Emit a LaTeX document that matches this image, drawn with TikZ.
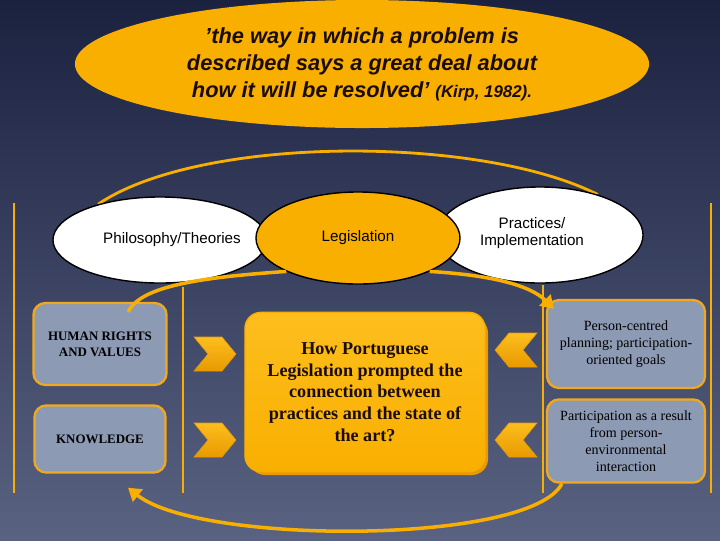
\documentclass[tikz,border=0pt]{standalone}
\usepackage{fontspec}
\setmainfont{Liberation Serif}
\setsansfont{Liberation Sans}
\usetikzlibrary{shapes.geometric,arrows.meta,backgrounds}
\definecolor{bgtop}{HTML}{1B2240}
\definecolor{bgbot}{HTML}{5A6282}
\definecolor{orng}{HTML}{F9AF00}
\definecolor{orngdark}{HTML}{E89A00}
\definecolor{ornglight}{HTML}{FDBE1E}
\definecolor{boxfill}{HTML}{8D9AB4}
\definecolor{boxline}{HTML}{F2A81D}
\definecolor{ink}{HTML}{1A0C00}

\begin{document}
\begin{tikzpicture}[x=0.025cm,y=-0.025cm,
    bubble/.style={ellipse,draw=black,line width=1pt,inner sep=0pt,
        font=\sffamily\fontsize{10.8}{12.5}\selectfont,align=center},
    graybox/.style={draw=boxline,line width=1.6pt,fill=boxfill,
        rounded corners=0.3cm,align=center,inner sep=2pt},
    band/.style={draw=orng,line width=2.5pt},
    chevron/.style={top color=ornglight,bottom color=orngdark,draw=orngdark,line width=0.4pt}]
    \useasboundingbox (0,0) rectangle (720,540);

    % Draw the quotation on top
    \node[ellipse,fill=orng,minimum width=14.35cm,minimum height=3.2cm,inner sep=0pt,
        align=center,text=ink,font=\sffamily\bfseries\itshape\fontsize{15.5}{19.2}\selectfont]
        (quote) at (362,64) {’the way in which a problem is\\described says a great deal about\\
        how it will be resolved’ {\fontsize{12}{13}\selectfont(Kirp, 1982).}};

    % Draw the frame lines
    \draw[orng,line width=1.4pt] (14,203) -- (14,493);
    \draw[orng,line width=1.4pt] (183,287) -- (183,493);
    \draw[orng,line width=1.4pt] (543,285) -- (543,493);
    \draw[orng,line width=1.4pt] (711,203) -- (711,493);

    % Draw the three ellipses
    \node[bubble,fill=white,minimum width=5.35cm,minimum height=2.15cm] (phil) at (160,240) {};
    \node[font=\sffamily\fontsize{10.8}{12.5}\selectfont] (philtext) at (172,240) {Philosophy/Theories};
    \node[bubble,fill=white,minimum width=5.15cm,minimum height=2.4cm] (prac) at (540,235) {};
    \node[font=\sffamily\fontsize{10.8}{12.5}\selectfont,align=center] (practext) at (532,233) {Practices/\\Implementation};
    \node[bubble,fill=orng,minimum width=5.1cm,minimum height=2.3cm] (leg) at (358,238) {Legislation};

    % Draw the boxes on the left
    \node[graybox,minimum width=3.33cm,minimum height=2.05cm,
        font=\bfseries\fontsize{9.2}{11.5}\selectfont] (hr) at (100,344) {HUMAN RIGHTS\\AND VALUES};
    \node[graybox,minimum width=3.28cm,minimum height=1.68cm,
        font=\bfseries\fontsize{9.2}{11.5}\selectfont] (kn) at (100,439) {KNOWLEDGE};

    % Draw the question in the middle
    \fill[orngdark,rounded corners=0.4cm] (249,317) rectangle (488,475);
    \node[rounded corners=0.4cm,top color=ornglight,bottom color=orng,draw=orng,line width=1pt,
        minimum width=6cm,minimum height=3.98cm,align=center,text=ink,
        font=\bfseries\fontsize{12.9}{15.5}\selectfont] (quest) at (365,392)
        {How Portuguese\\Legislation prompted the\\connection between\\practices and the state of\\the art?};

    % Draw the boxes on the right
    \node[graybox,minimum width=3.95cm,minimum height=2.2cm,
        font=\fontsize{10}{12}\selectfont] (pc) at (626,344)
        {Person-centred\\planning; participation-\\oriented goals};
    \node[graybox,minimum width=3.95cm,minimum height=2.08cm,
        font=\fontsize{10}{12}\selectfont] (pa) at (626,441)
        {Participation as a result\\from person-\\environmental\\interaction};

    % Draw the chevrons
    \foreach \cy in {354,440}
        \path[chevron] (194,\cy-17) -- (222,\cy-17) -- (236,\cy) -- (222,\cy+17)
            -- (194,\cy+17) -- (208,\cy) -- cycle;
    \foreach \cy in {350,440}
        \path[chevron] (537,\cy-17) -- (509,\cy-17) -- (495,\cy) -- (509,\cy+17)
            -- (537,\cy+17) -- (523,\cy) -- cycle;

    % Draw the curved links
    \draw[band] (leg.205) .. controls (190,278) and (140,288) .. ([xshift=0.7cm,yshift=-0.25cm]hr.north);
    \draw[band,-{Triangle[length=9pt,width=11pt]}] (leg.-25) .. controls (490,275) and (530,285)
        .. ([shift={(0.2cm,-0.25cm)}]pc.north west);
    \draw[band,-{Triangle[length=9pt,width=11pt]}] ([xshift=0.4cm]pa.south west)
        .. controls (530,545) and (200,545) .. ([xshift=0.7cm,yshift=-0.35cm]kn.south);

    % Background and the top arc
    \begin{scope}[on background layer]
        \shade[top color=bgtop,bottom color=bgbot] (0,0) rectangle (720,540);
        \draw[band,line width=2pt] (phil.150) .. controls (200,135) and (480,135) .. (prac.35);
    \end{scope}
\end{tikzpicture}
\end{document}
